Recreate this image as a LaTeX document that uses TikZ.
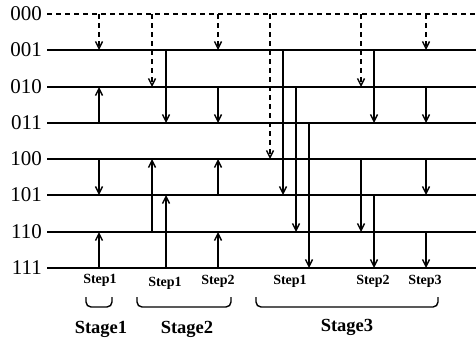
\documentclass[tikz,border=0pt]{standalone}
\usepackage{fontspec}
\setmainfont{Liberation Serif}
\usetikzlibrary{arrows.meta}
\begin{document}
\begin{tikzpicture}[x=1pt,y=-1pt,
  hline/.style={line width=1.7pt},
  dline/.style={line width=1.5pt, dash pattern=on 5pt off 4pt},
  arr/.style={line width=1.5pt, -{Straight Barb[length=7pt,width=7pt,line width=1.4pt]}},
  darr/.style={dline, -{Straight Barb[length=7pt,width=7pt,line width=1.4pt]}},
  rowlab/.style={anchor=east, font=\fontsize{21}{21}\selectfont, inner sep=0pt},
  steplab/.style={font=\bfseries\fontsize{14}{14}\selectfont, anchor=base, inner sep=0pt},
  stagelab/.style={font=\bfseries\fontsize{18.5}{18.5}\selectfont, anchor=base, inner sep=0pt},
  bracket/.style={line width=1.4pt, rounded corners=5pt}]
\useasboundingbox (0,0) rectangle (476,343);
% rows
\foreach \lab/\y [count=\i from 0] in {000/14,001/50,010/87,011/123,100/159,101/195,110/232,111/268}{
  \coordinate (S\i) at (47,\y);
  \coordinate (E\i) at (476,\y);
  \node[rowlab] (L\i) at (42,\y) {\lab};
}
\draw[dline] (S0) -- (E0);
\foreach \i in {1,...,7}{ \draw[hline] (S\i) -- (E\i); }
% columns
\coordinate (c1) at (99,0);
\coordinate (c2a) at (152,0);
\coordinate (c2b) at (166,0);
\coordinate (c3) at (218,0);
\coordinate (c4a) at (270,0);
\coordinate (c4b) at (283,0);
\coordinate (c4c) at (296,0);
\coordinate (c4d) at (309,0);
\coordinate (c5a) at (361,0);
\coordinate (c5b) at (374,0);
\coordinate (c6) at (426,0);
% dashed arrows from 000
\draw[darr] (c1|-S0) -- (c1|-S1);
\draw[darr] (c2a|-S0) -- (c2a|-S2);
\draw[darr] (c3|-S0) -- (c3|-S1);
\draw[darr] (c4a|-S0) -- (c4a|-S4);
\draw[darr] (c5a|-S0) -- (c5a|-S2);
\draw[darr] (c6|-S0) -- (c6|-S1);
% Stage1 Step1
\draw[arr] (c1|-S3) -- (c1|-S2);
\draw[arr] (c1|-S4) -- (c1|-S5);
\draw[arr] (c1|-S7) -- (c1|-S6);
% Stage2 Step1
\draw[arr] (c2b|-S1) -- (c2b|-S3);
\draw[arr] (c2a|-S6) -- (c2a|-S4);
\draw[arr] (c2b|-S7) -- (c2b|-S5);
% Stage2 Step2
\draw[arr] (c3|-S2) -- (c3|-S3);
\draw[arr] (c3|-S5) -- (c3|-S4);
\draw[arr] (c3|-S7) -- (c3|-S6);
% Stage3 Step1
\draw[arr] (c4b|-S1) -- (c4b|-S5);
\draw[arr] (c4c|-S2) -- (c4c|-S6);
\draw[arr] (c4d|-S3) -- (c4d|-S7);
% Stage3 Step2
\draw[arr] (c5b|-S1) -- (c5b|-S3);
\draw[arr] (c5a|-S4) -- (c5a|-S6);
\draw[arr] (c5b|-S5) -- (c5b|-S7);
% Stage3 Step3
\draw[arr] (c6|-S2) -- (c6|-S3);
\draw[arr] (c6|-S4) -- (c6|-S5);
\draw[arr] (c6|-S6) -- (c6|-S7);
% step labels
\node[steplab] (t1) at (100,283) {Step1};
\node[steplab] (t2) at (165,286) {Step1};
\node[steplab] (t3) at (218,284) {Step2};
\node[steplab] (t4) at (290,284) {Step1};
\node[steplab] (t5) at (373,284) {Step2};
\node[steplab] (t6) at (425,284) {Step3};
% brackets
\draw[bracket] (86,297) -- (86,307) -- (112,307) -- (112,297);
\draw[bracket] (137,297) -- (137,307) -- (231,307) -- (231,297);
\draw[bracket] (256,297) -- (256,307) -- (438,307) -- (438,297);
% stage labels
\node[stagelab] (g1) at (101,333) {Stage1};
\node[stagelab] (g2) at (187,333) {Stage2};
\node[stagelab] (g3) at (347,331) {Stage3};
\end{tikzpicture}
\end{document}
